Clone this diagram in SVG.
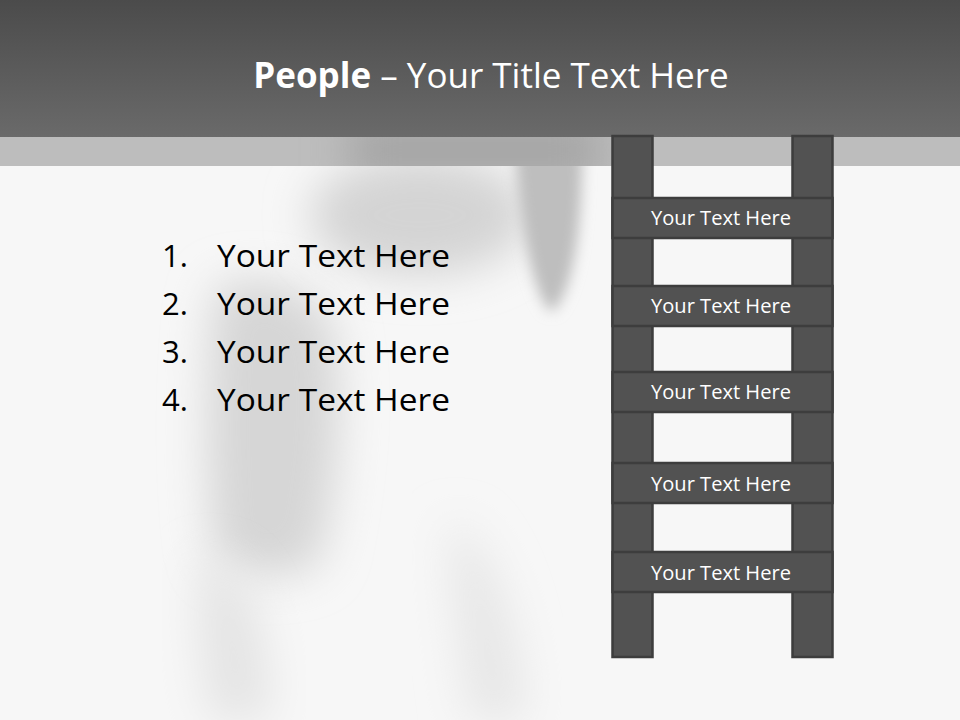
<svg xmlns="http://www.w3.org/2000/svg" width="960" height="720" viewBox="0 0 960 720">
<defs>
<linearGradient id="hdr" x1="0" y1="0" x2="0" y2="1">
<stop offset="0" stop-color="#4b4b4b"/>
<stop offset="1" stop-color="#6a6a6a"/>
</linearGradient>
<filter id="blur" x="-50%" y="-50%" width="200%" height="200%"><feGaussianBlur stdDeviation="22"/></filter>
<filter id="blur2" x="-50%" y="-50%" width="200%" height="200%"><feGaussianBlur stdDeviation="7"/></filter>
<clipPath id="band"><rect x="0" y="137" width="960" height="29"/></clipPath>
<style>
.part{fill:#525252;stroke:#3d3d3d;stroke-width:2.5}
.rt{font-family:"Open Sans","DejaVu Sans",sans-serif;font-size:19.5px;fill:#ffffff;text-anchor:middle}
.li{font-family:"Open Sans","DejaVu Sans",sans-serif;font-size:31px;fill:#000000}
</style>
</defs>
<rect width="960" height="720" fill="#f7f7f7"/>
<g id="shadows">
<path d="M215 290 C250 270 300 280 330 320 C345 380 340 470 320 560 C300 580 240 580 215 560 C205 480 205 380 215 290 Z" fill="#d6d6d6" filter="url(#blur)"/>
<ellipse cx="420" cy="215" rx="110" ry="60" fill="#d4d4d4" filter="url(#blur)"/>
<path d="M200 560 C240 560 270 600 270 720 L210 720 C200 660 195 600 200 560 Z" fill="#e4e4e4" filter="url(#blur)"/>
<path d="M450 520 C490 540 520 620 525 720 L470 720 C460 640 450 580 450 520 Z" fill="#e6e6e6" filter="url(#blur)"/>
<path d="M515 150 L582 150 C582 220 575 290 552 312 C535 300 522 240 515 150 Z" fill="#bebebe" filter="url(#blur2)"/>
</g>
<rect x="0" y="137" width="960" height="29" fill="#bdbdbd"/>
<g clip-path="url(#band)">
<rect x="350" y="120" width="250" height="60" fill="#a4a4a4" filter="url(#blur)"/>
</g>
<rect x="0" y="0" width="960" height="137" fill="url(#hdr)"/>
<g id="title">
<text x="491" y="88" text-anchor="middle" font-family="'Open Sans','DejaVu Sans',sans-serif" font-size="35" fill="#ffffff"><tspan font-weight="bold">People</tspan> – Your Title Text Here</text>
</g>
<g id="list">
<text class="li" x="162" y="267">1.</text><text class="li" x="217" y="267" textLength="233" lengthAdjust="spacingAndGlyphs">Your Text Here</text>
<text class="li" x="162" y="315">2.</text><text class="li" x="217" y="315" textLength="233" lengthAdjust="spacingAndGlyphs">Your Text Here</text>
<text class="li" x="162" y="363">3.</text><text class="li" x="217" y="363" textLength="233" lengthAdjust="spacingAndGlyphs">Your Text Here</text>
<text class="li" x="162" y="411">4.</text><text class="li" x="217" y="411" textLength="233" lengthAdjust="spacingAndGlyphs">Your Text Here</text>
</g>
<g id="ladder">
<rect class="part" x="612.5" y="136" width="40" height="521"/>
<rect class="part" x="792.5" y="136" width="40" height="521"/>
<g id="rung1"><rect class="part" x="612.5" y="198" width="220" height="40"/><text class="rt" x="721" y="224.5" textLength="140" lengthAdjust="spacingAndGlyphs">Your Text Here</text></g>
<g id="rung2"><rect class="part" x="612.5" y="286" width="220" height="40"/><text class="rt" x="721" y="312.5" textLength="140" lengthAdjust="spacingAndGlyphs">Your Text Here</text></g>
<g id="rung3"><rect class="part" x="612.5" y="372" width="220" height="40"/><text class="rt" x="721" y="398.5" textLength="140" lengthAdjust="spacingAndGlyphs">Your Text Here</text></g>
<g id="rung4"><rect class="part" x="612.5" y="463" width="220" height="40"/><text class="rt" x="721" y="490.5" textLength="140" lengthAdjust="spacingAndGlyphs">Your Text Here</text></g>
<g id="rung5"><rect class="part" x="612.5" y="552" width="220" height="40"/><text class="rt" x="721" y="579.5" textLength="140" lengthAdjust="spacingAndGlyphs">Your Text Here</text></g>
</g>
</svg>
